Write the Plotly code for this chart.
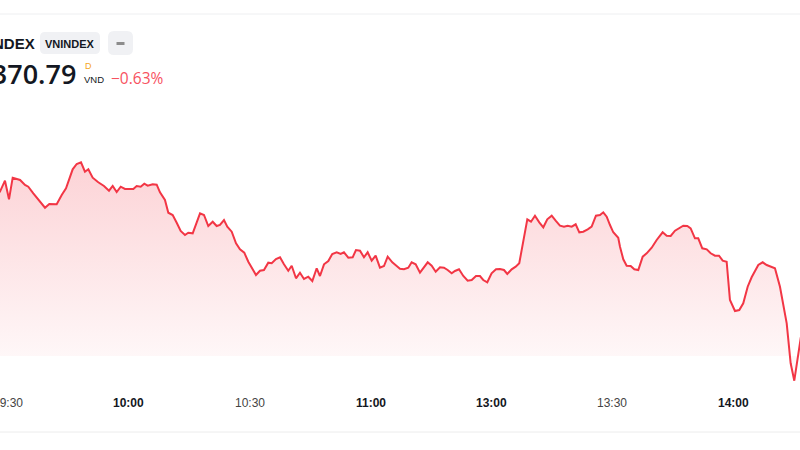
import plotly.graph_objects as go

DAY = "2025-06-20"

times = [
    "09:27:00", "09:28:00", "09:29:15", "09:30:15", "09:31:10", "09:33:00", "09:34:13", "09:35:02",
    "09:36:17", "09:37:31", "09:39:11", "09:40:15", "09:42:05", "09:43:20", "09:44:24", "09:46:03",
    "09:47:03", "09:48:07", "09:49:06", "09:49:56", "09:51:01", "09:52:24", "09:53:49", "09:55:04",
    "09:55:59", "09:56:58", "09:57:58", "09:59:02", "10:01:06", "10:01:56", "10:02:56", "10:03:49",
    "10:04:40", "10:05:54", "10:06:54", "10:07:43", "10:08:57", "10:09:47", "10:10:52", "10:11:52",
    "10:12:51", "10:13:55", "10:14:44", "10:15:50", "10:16:49", "10:17:39", "10:18:38", "10:19:42",
    "10:20:48", "10:21:47", "10:22:36", "10:23:36", "10:24:25", "10:25:31", "10:26:35", "10:27:34",
    "10:28:38", "10:29:38", "10:30:43", "10:31:32", "10:32:32", "10:33:31", "10:34:35", "10:35:26",
    "10:36:30", "10:37:30", "10:38:29", "10:39:33", "10:40:24", "10:41:28", "10:42:27", "10:43:27",
    "10:44:31", "10:45:31", "10:46:36", "10:47:25", "10:48:25", "10:49:29", "10:50:28", "10:51:34",
    "10:52:33", "10:53:22", "10:54:27", "10:55:32", "10:56:21", "10:57:21", "10:58:20", "10:59:15",
    "11:00:15", "11:01:14", "11:02:18", "11:03:18", "11:04:13", "11:05:22", "11:06:27", "11:07:16",
    "11:08:16", "11:09:20", "11:10:10", "11:11:10", "11:12:14", "11:13:14", "11:14:09", "11:15:08",
    "11:16:08", "11:17:12", "11:18:11", "11:19:06", "11:20:06", "11:20:55", "11:21:55", "11:22:59",
    "11:24:04", "11:25:04", "11:26:08", "11:27:07", "11:27:56", "11:28:56",
    "13:00:00", "13:01:06", "13:02:05", "13:03:05", "13:03:54", "13:04:59", "13:05:59", "13:06:52",
    "13:07:52", "13:08:52", "13:09:47", "13:10:46", "13:11:50", "13:12:50", "13:13:49", "13:14:55",
    "13:15:54", "13:16:58", "13:17:58", "13:18:53", "13:19:53", "13:20:52", "13:21:46", "13:22:45",
    "13:23:51", "13:24:50", "13:25:54", "13:26:54", "13:27:43", "13:28:34", "13:29:23", "13:30:12",
    "13:31:26", "13:31:52", "13:32:41", "13:33:31", "13:34:31", "13:35:25", "13:36:24", "13:37:30",
    "13:38:29", "13:39:44", "13:40:58", "13:42:27", "13:43:27", "13:44:27", "13:45:31", "13:46:35",
    "13:47:34", "13:48:34", "13:49:24", "13:50:28", "13:51:17", "13:52:17", "13:53:23", "13:54:22",
    "13:55:26", "13:56:26", "13:57:21", "13:58:20", "13:59:09", "14:00:24", "14:01:28", "14:02:27",
    "14:03:33", "14:04:32", "14:06:11", "14:07:16", "14:08:16", "14:10:19", "14:11:34", "14:13:14",
    "14:14:13", "14:15:07", "14:16:45",
]

prices = [
    1385.00, 1385.33, 1386.43, 1384.57, 1386.73, 1386.50, 1386.00, 1385.83,
    1385.17, 1384.57, 1383.73, 1384.10, 1384.07, 1385.00, 1385.67, 1387.57,
    1388.10, 1388.27, 1387.33, 1387.57, 1386.73, 1386.27, 1385.90, 1385.43,
    1385.90, 1385.30, 1385.83, 1385.60, 1385.60, 1385.90, 1385.83, 1386.13,
    1385.93, 1386.07, 1386.03, 1385.27, 1384.50, 1383.23, 1383.00, 1382.23,
    1381.40, 1381.00, 1381.23, 1381.17, 1382.33, 1383.17, 1383.00, 1381.90,
    1382.33, 1381.90, 1382.00, 1382.50, 1381.83, 1381.33, 1380.17, 1379.57,
    1379.23, 1378.33, 1377.57, 1377.00, 1377.43, 1377.50, 1378.23, 1378.17,
    1378.60, 1378.77, 1378.07, 1377.43, 1377.93, 1376.67, 1377.23, 1376.60,
    1376.83, 1376.40, 1377.67, 1376.90, 1378.07, 1378.40, 1379.10, 1379.27,
    1379.10, 1379.27, 1378.73, 1378.77, 1379.50, 1379.43, 1378.77, 1379.27,
    1378.43, 1378.93, 1377.73, 1377.90, 1378.83, 1378.27, 1377.90, 1377.63,
    1377.57, 1377.73, 1378.27, 1378.07, 1377.23, 1377.83, 1378.27, 1377.93,
    1377.33, 1377.77, 1377.73, 1377.50, 1377.17, 1377.40, 1377.57, 1376.90,
    1376.43, 1376.50, 1376.90, 1376.90, 1376.50, 1376.27,
    1377.17, 1377.57, 1377.60, 1377.50, 1377.10, 1377.57, 1377.83, 1378.17,
    1380.33, 1382.57, 1382.33, 1382.93, 1382.27, 1381.77, 1382.57, 1382.93,
    1382.43, 1381.93, 1381.83, 1381.93, 1381.83, 1382.07, 1381.27, 1381.33,
    1381.57, 1381.83, 1382.93, 1383.00, 1383.27, 1382.83, 1382.00, 1381.27,
    1380.73, 1379.83, 1378.57, 1377.93, 1377.90, 1377.57, 1377.50, 1378.83,
    1379.17, 1379.73, 1380.50, 1381.27, 1380.93, 1380.90, 1381.43, 1381.73,
    1381.93, 1381.90, 1381.67, 1380.67, 1380.67, 1379.67, 1379.57, 1379.17,
    1378.93, 1378.93, 1378.43, 1378.33, 1374.50, 1373.40, 1373.50, 1374.17,
    1375.83, 1376.77, 1378.00, 1378.27, 1378.00, 1377.67, 1375.83, 1372.17,
    1368.17, 1366.43, 1370.79,
]

tick_times = ["09:30", "10:00", "10:30", "11:00", "13:00", "13:30", "14:00"]
tick_bold = [False, True, False, True, True, False, True]

symbol = "VNINDEX"
last_price = "1,370.79"
change_pct = "−0.63%"
currency = "VND"
period = "D"

LUNCH = ["11:30:00", "13:00:00"]
FILL_BASE = 1368.9
Y_RANGE = [1359.5, 1404.5]
X_RANGE = [f"{DAY} 09:28:01", f"{DAY} 14:16:32"]

W, H = 800, 450
RED = "#f23645"
FONT = "Liberation Sans"

x = [f"{DAY} {t}" for t in times]

fig = go.Figure()
fig.add_trace(go.Scatter(
    x=[x[0], x[-1]], y=[FILL_BASE, FILL_BASE], mode="lines",
    line=dict(width=0, color="rgba(0,0,0,0)"), hoverinfo="skip", showlegend=False,
))
fig.add_trace(go.Scatter(
    x=x, y=prices, mode="lines", fill="tonexty",
    line=dict(color=RED, width=2),
    fillgradient=dict(
        type="vertical",
        colorscale=[[0, "rgba(242,54,69,0.04)"], [1, "rgba(242,54,69,0.22)"]],
        start=FILL_BASE, stop=1388.3,
    ),
    showlegend=False,
))


def px(xp):
    return xp / W


def py(yp):
    return 1 - yp / H


def rounded(x0, y0, x1, y1, r):
    X0, X1 = px(x0), px(x1)
    Y0, Y1 = py(y0), py(y1)
    rx, ry = r / W, r / H
    return (f"M{X0+rx},{Y0} L{X1-rx},{Y0} Q{X1},{Y0} {X1},{Y0-ry} "
            f"L{X1},{Y1+ry} Q{X1},{Y1} {X1-rx},{Y1} L{X0+rx},{Y1} "
            f"Q{X0},{Y1} {X0},{Y1+ry} L{X0},{Y0-ry} Q{X0},{Y0} {X0+rx},{Y0} Z")


shapes = [
    dict(type="line", xref="paper", yref="paper", x0=0, x1=1, y0=py(14), y1=py(14),
         line=dict(color="#eeeff1", width=1)),
    dict(type="line", xref="paper", yref="paper", x0=0, x1=1, y0=py(432), y1=py(432),
         line=dict(color="#ececec", width=1)),
    dict(type="path", xref="paper", yref="paper", path=rounded(40, 32, 100, 54, 5),
         fillcolor="#f0f1f4", line=dict(width=0)),
    dict(type="path", xref="paper", yref="paper", path=rounded(108, 31, 133, 55, 6),
         fillcolor="#f0f1f4", line=dict(width=0)),
    dict(type="line", xref="paper", yref="paper", x0=px(116.5), x1=px(124.5),
         y0=py(43.5), y1=py(43.5), line=dict(color="#8c8c8c", width=3)),
]

ann = [
    dict(text=f"<b>{symbol}</b>", x=px(37), y=py(43.5), xanchor="right", yanchor="middle",
         font=dict(family=FONT, size=15, color="#131722")),
    dict(text=f"<b>{symbol}</b>", x=px(70), y=py(43.5), xanchor="center", yanchor="middle",
         font=dict(family=FONT, size=11, color="#131722")),
    dict(text=last_price, x=px(78), y=py(73.5), xanchor="right", yanchor="middle",
         font=dict(family="Open Sans", size=27, color="#131722", weight=600)),
    dict(text=period, x=px(82.5), y=py(66), xanchor="left", yanchor="middle",
         font=dict(family=FONT, size=9, color="#f5a623")),
    dict(text=currency, x=px(82), y=py(79.5), xanchor="left", yanchor="middle",
         font=dict(family=FONT, size=9.5, color="#131722")),
    dict(text=change_pct, x=px(109), y=py(77.5), xanchor="left", yanchor="middle",
         font=dict(family="Open Sans", size=15.5, color="#f7525f")),
]
for a in ann:
    a.update(xref="paper", yref="paper", showarrow=False)

for t, b in zip(tick_times, tick_bold):
    ann.append(dict(
        text=f"<b>{t}</b>" if b else t, x=f"{DAY} {t}:00", xref="x",
        y=py(403), yref="paper", xanchor="center", yanchor="middle", showarrow=False,
        font=dict(family=FONT, size=12, color="#131722" if b else "#444444"),
    ))

fig.update_layout(
    width=W, height=H, margin=dict(l=0, r=0, t=0, b=0),
    paper_bgcolor="white", plot_bgcolor="white",
    xaxis=dict(type="date", range=X_RANGE, showticklabels=False, ticks="",
               showline=False, showgrid=False, zeroline=False,
               rangebreaks=[dict(bounds=[f"{DAY} {LUNCH[0]}", f"{DAY} {LUNCH[1]}"])]),
    yaxis=dict(range=Y_RANGE, showticklabels=False, ticks="", showline=False,
               showgrid=False, zeroline=False),
    shapes=shapes, annotations=ann, showlegend=False,
)

fig.write_html("out.html", config={"displayModeBar": False},
               post_script="document.body.style.margin='0px';")
